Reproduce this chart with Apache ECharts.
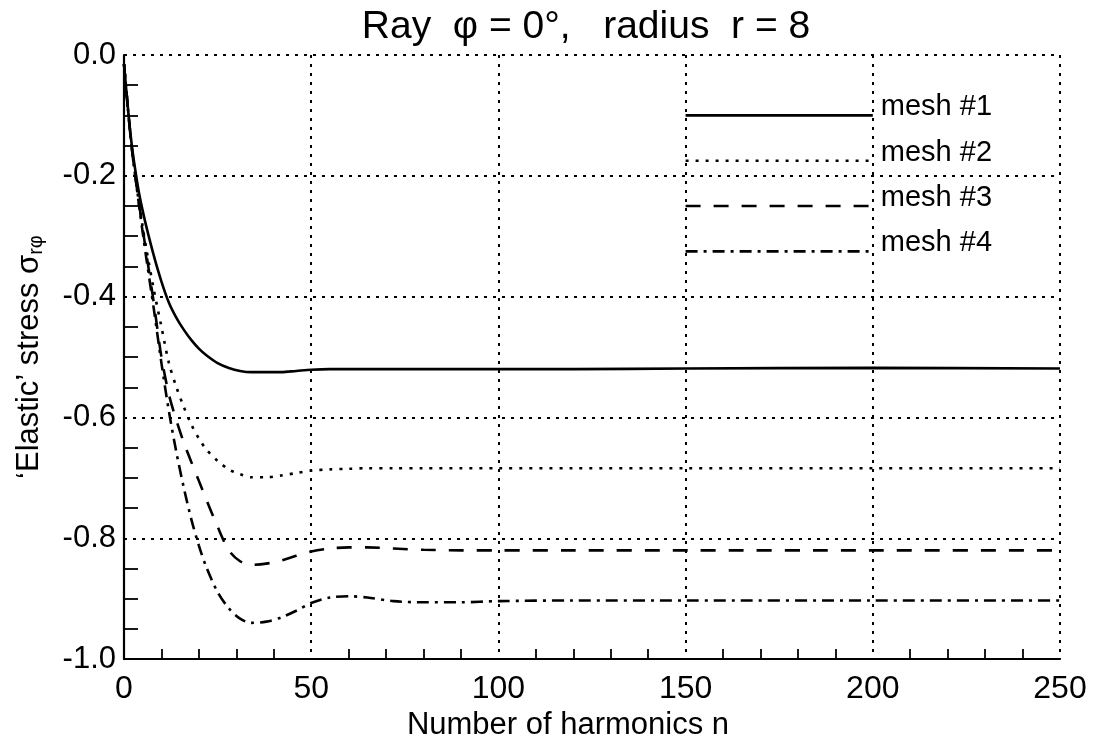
<!DOCTYPE html>
<html>
<head>
<meta charset="utf-8">
<title>Ray φ = 0°, radius r = 8</title>
<script src="https://cdn.jsdelivr.net/npm/echarts@6/dist/echarts.min.js"></script>
<style>
  html, body { margin: 0; padding: 0; background: #ffffff; }
  #chart { width: 1094px; height: 746px; }
</style>
</head>
<body>
<div id="chart"></div>
<script>
// Number of harmonics n at which the stress was sampled
const harmonics = [0, 1, 2, 3, 4, 5, 6, 8, 10, 12, 14, 16, 18, 20, 22, 25, 28, 31, 34, 38,
                   42, 46, 50, 55, 60, 65, 72, 80, 90, 100, 120, 150, 200, 250];

// 'Elastic' stress sigma_r-phi for each mesh
const mesh1 = [-0.015, -0.085, -0.145, -0.19, -0.228, -0.258, -0.285, -0.333, -0.375, -0.41,
               -0.435, -0.455, -0.472, -0.486, -0.497, -0.51, -0.518, -0.523, -0.525, -0.525,
               -0.525, -0.523, -0.521, -0.52, -0.52, -0.52, -0.52, -0.52, -0.52, -0.52,
               -0.52, -0.519, -0.518, -0.519];
const mesh2 = [-0.015, -0.085, -0.148, -0.2, -0.245, -0.285, -0.322, -0.39, -0.45, -0.51,
               -0.55, -0.583, -0.612, -0.635, -0.653, -0.672, -0.686, -0.694, -0.699, -0.699,
               -0.696, -0.692, -0.688, -0.686, -0.685, -0.684, -0.684, -0.684, -0.684, -0.684,
               -0.684, -0.684, -0.684, -0.684];
const mesh3 = [-0.015, -0.085, -0.15, -0.2, -0.245, -0.288, -0.33, -0.412, -0.5, -0.562,
               -0.605, -0.642, -0.674, -0.705, -0.736, -0.781, -0.82, -0.838, -0.844, -0.842,
               -0.837, -0.829, -0.822, -0.817, -0.815, -0.815, -0.817, -0.819, -0.82, -0.82,
               -0.82, -0.82, -0.82, -0.82];
const mesh4 = [-0.015, -0.085, -0.15, -0.2, -0.248, -0.294, -0.338, -0.422, -0.51, -0.59,
               -0.658, -0.717, -0.769, -0.812, -0.848, -0.889, -0.916, -0.933, -0.94, -0.938,
               -0.931, -0.92, -0.907, -0.898, -0.896, -0.898, -0.904, -0.906, -0.906, -0.904,
               -0.903, -0.903, -0.903, -0.903];

// Key: names, the stress level of each key line, and the n range it spans
const meshNames = ['mesh #1', 'mesh #2', 'mesh #3', 'mesh #4'];
const keyLevels = [-0.1, -0.175, -0.25, -0.325];
const keySpan = [150, 200];

// Axis ranges and ticks
const xTicks = { min: 0, max: 250, step: 50 };
const yTicks = { min: -1.0, max: 0.0, step: 0.2 };

const FONT = '"Liberation Sans", Arial, Helvetica, sans-serif';
const INK = '#000000';

// stroke pattern per mesh: solid, dotted, dashed, dash-dot
const strokes = [
  { type: 'solid', width: 2.6 },
  { type: [3, 7], width: 2.6 },
  { type: [15, 13], width: 2.6 },
  { type: [12, 6, 3, 6], width: 2.6 }
];

const meshValues = [mesh1, mesh2, mesh3, mesh4];

const curveSeries = meshValues.map((vals, k) => ({
  name: meshNames[k],
  type: 'line',
  data: harmonics.map((n, i) => [n, vals[i]]),
  showSymbol: false,
  smooth: 0.3,
  silent: true,
  z: 5,
  lineStyle: { color: INK, width: strokes[k].width, type: strokes[k].type, cap: 'butt' }
}));

const keySeries = meshNames.map((name, k) => ({
  name: name,
  type: 'line',
  data: [[keySpan[0], keyLevels[k]], [keySpan[1], keyLevels[k]]],
  showSymbol: false,
  symbol: 'none',
  silent: true,
  z: 6,
  lineStyle: { color: INK, width: strokes[k].width, type: strokes[k].type, cap: 'butt' },
  endLabel: {
    show: true,
    distance: 8,
    offset: [0, -8],
    formatter: name,
    color: INK,
    fontFamily: FONT,
    fontSize: 29
  }
}));

const chart = echarts.init(document.getElementById('chart'), null, { renderer: 'canvas' });

// ticks that only mark the minor steps, drawn inside the frame
const hiddenMajorTick = { show: true, inside: true, length: 1, lineStyle: { color: 'rgba(0,0,0,0)', width: 0 } };

chart.setOption({
  backgroundColor: '#ffffff',
  animation: false,
  graphic: [{
    type: 'text',
    x: 586,
    y: 27,
    style: {
      text: 'Ray  φ = 0°,   radius  r = 8',
      fill: INK,
      font: '39px ' + FONT,
      textAlign: 'center',
      textVerticalAlign: 'middle'
    }
  }],
  grid: { left: 124, right: 34, top: 55, bottom: 83, containLabel: false },
  xAxis: {
    type: 'value',
    min: xTicks.min,
    max: xTicks.max,
    interval: xTicks.step,
    name: 'Number of harmonics n',
    nameLocation: 'middle',
    nameGap: 40,
    nameTextStyle: { color: INK, fontFamily: FONT, fontSize: 31, padding: [0, 48, 0, 0] },
    axisLine: { show: true, onZero: false, lineStyle: { color: INK, width: 2.2 } },
    axisTick: hiddenMajorTick,
    minorTick: { show: true, splitNumber: 5, length: 10, lineStyle: { color: INK, width: 1.8 } },
    axisLabel: { color: INK, fontFamily: FONT, fontSize: 32, margin: 14 },
    splitLine: { show: true, lineStyle: { color: INK, width: 2, type: [3, 6] } },
    minorSplitLine: { show: false }
  },
  yAxis: {
    type: 'value',
    min: yTicks.min,
    max: yTicks.max,
    interval: yTicks.step,
    name: '‘Elastic’ stress σ{sub|rφ}',
    nameLocation: 'middle',
    nameGap: 78,
    nameTextStyle: {
      color: INK, fontFamily: FONT, fontSize: 31,
      rich: { sub: { fontFamily: FONT, fontSize: 20, color: INK, verticalAlign: 'bottom', padding: [14, 0, 0, 0] } }
    },
    axisLine: { show: true, onZero: false, lineStyle: { color: INK, width: 2.2 } },
    axisTick: hiddenMajorTick,
    minorTick: { show: true, splitNumber: 4, length: 14, lineStyle: { color: INK, width: 1.8 } },
    axisLabel: {
      color: INK, fontFamily: FONT, fontSize: 31, margin: 8,
      formatter: v => v.toFixed(1)
    },
    splitLine: { show: true, lineStyle: { color: INK, width: 2, type: [3, 6] } },
    minorSplitLine: { show: false }
  },
  series: curveSeries.concat(keySeries)
});
</script>
</body>
</html>
